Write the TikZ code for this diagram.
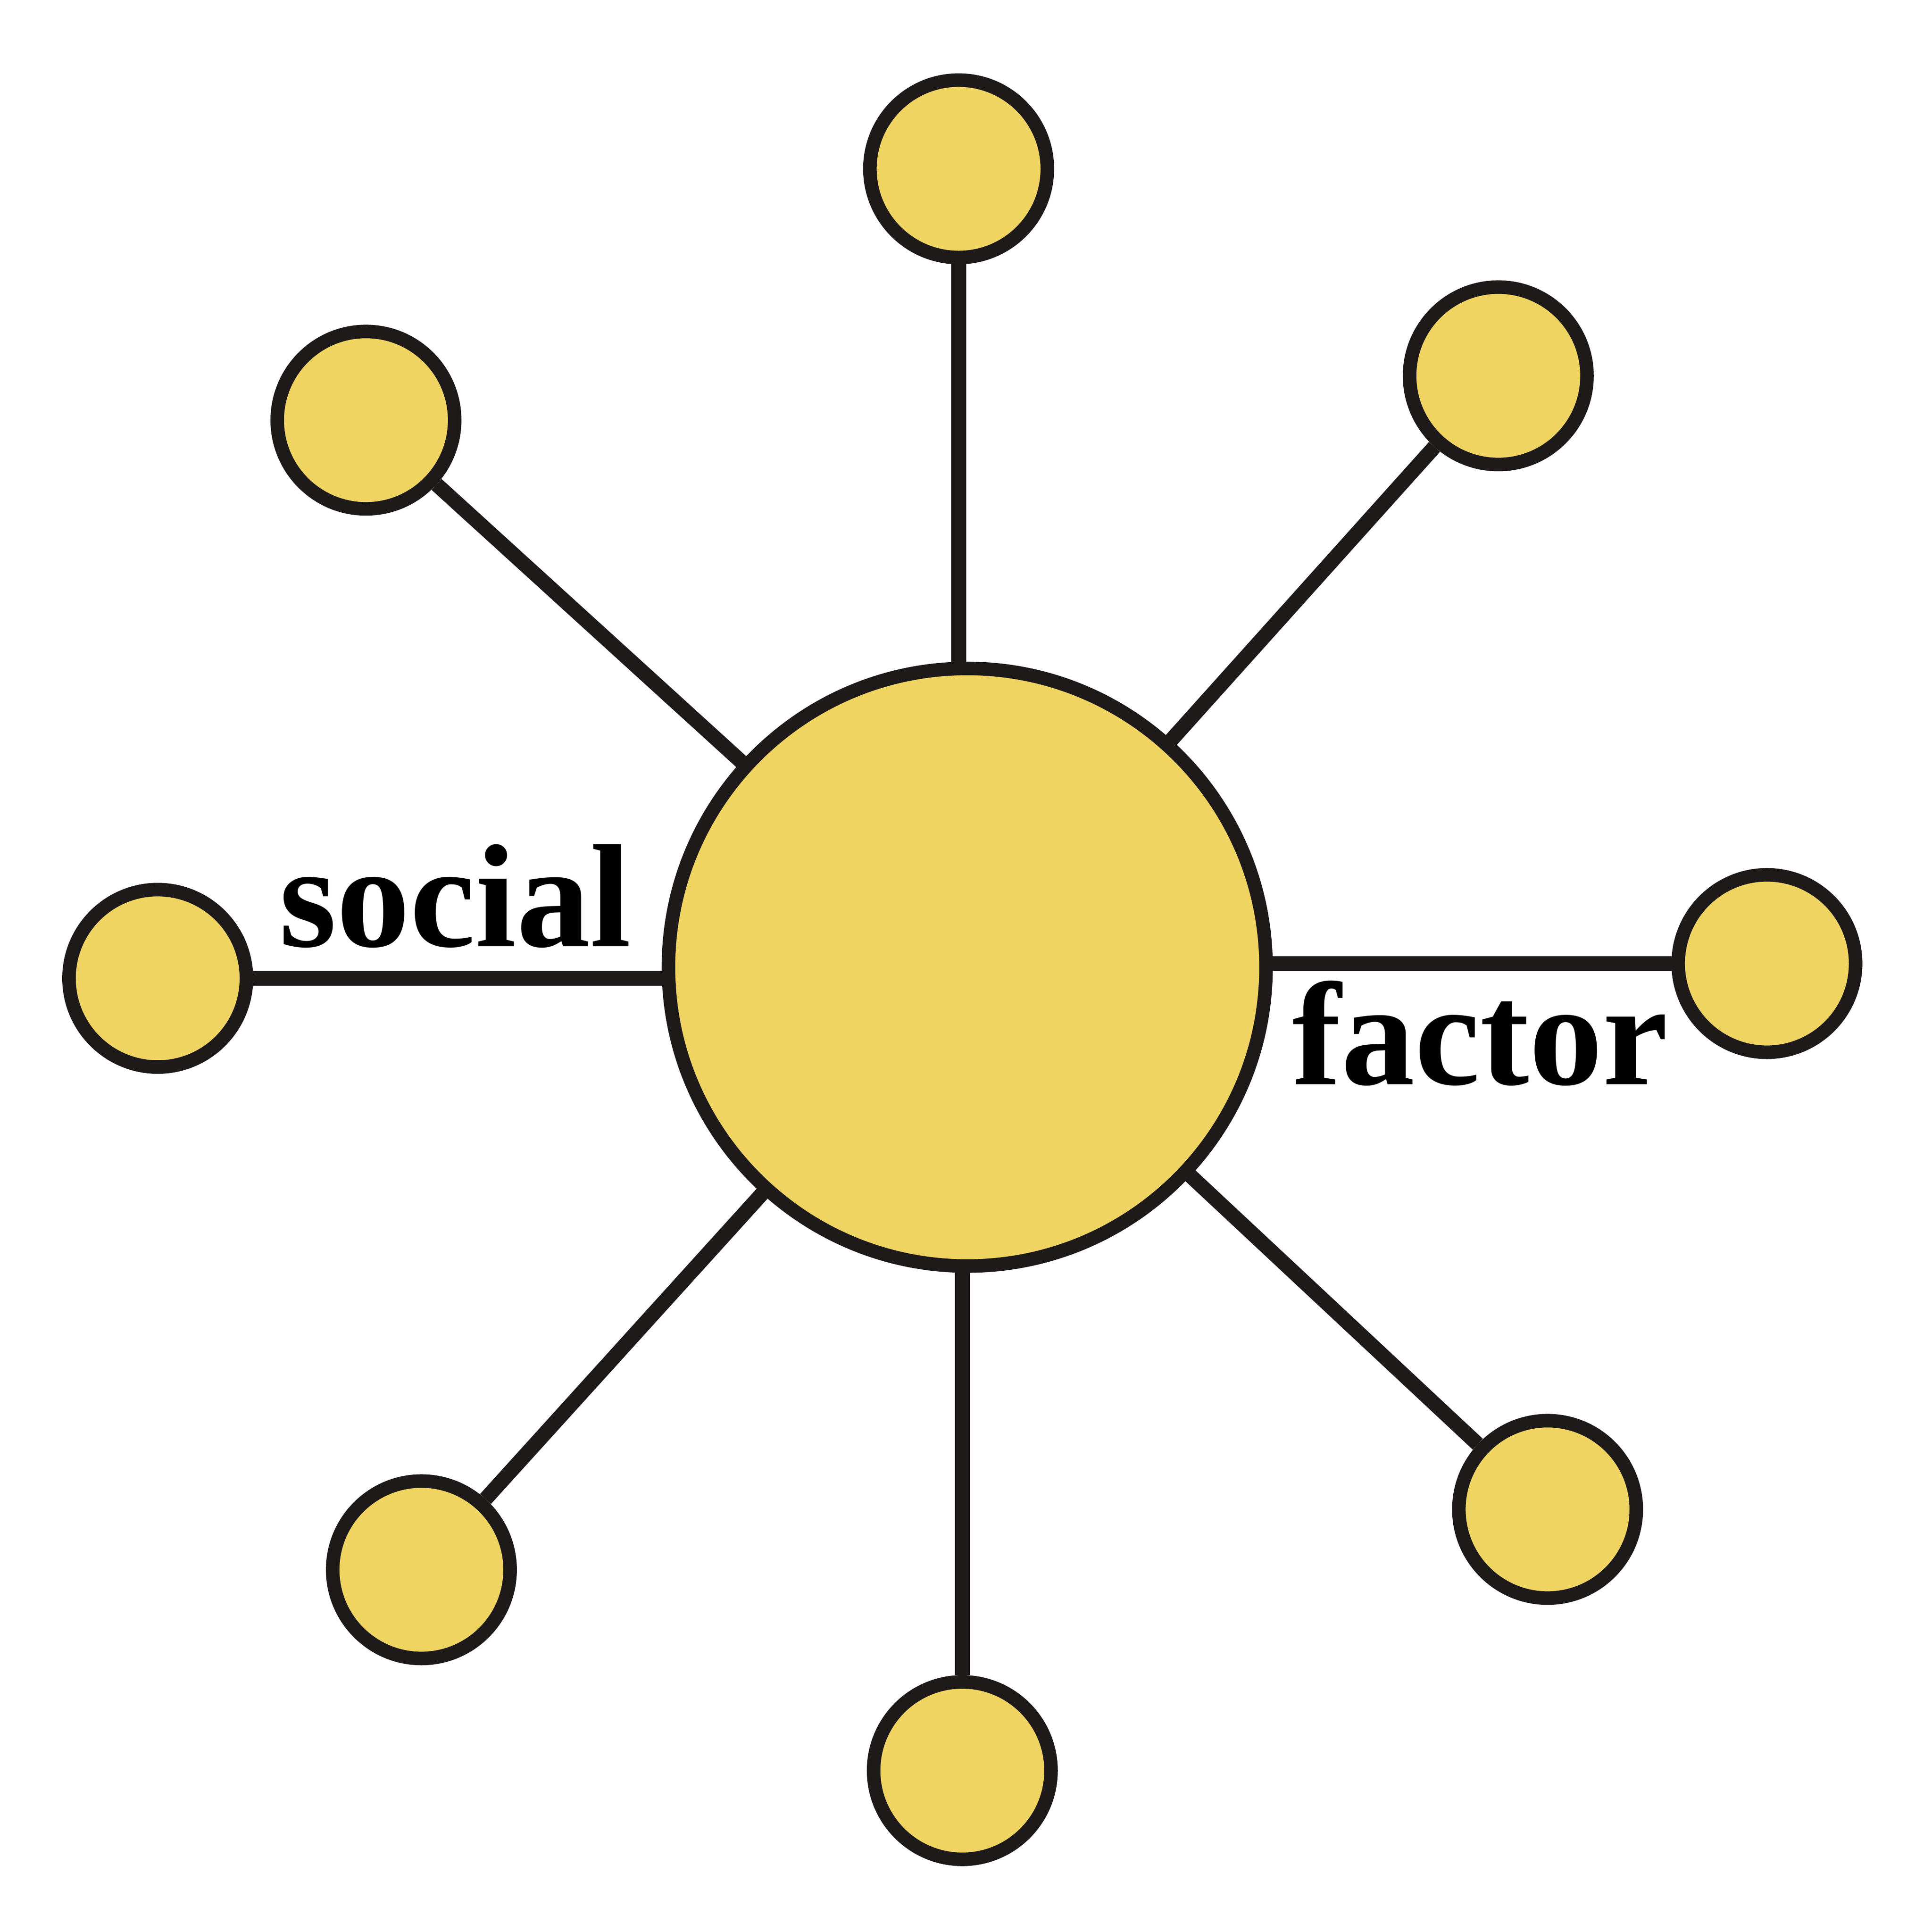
\documentclass[tikz,border=0pt]{standalone}
\usepackage{fontspec}
\setmainfont{Liberation Serif}
\definecolor{fillY}{HTML}{F0D462}
\definecolor{ink}{HTML}{1E1A1A}
\begin{document}
\begin{tikzpicture}[x=0.1mm,y=-0.1mm,
  bub/.style={circle,draw=ink,fill=fillY,line width=1.1mm,inner sep=0pt,minimum size=#1},
  link/.style={draw=ink,line width=1.2mm},
  word/.style={font=\bfseries\fontsize{34}{34}\selectfont,inner sep=0pt,anchor=base west,text=black}]
\useasboundingbox (0,0) rectangle (1568,1568);
\node[bub=14.4mm] (n1) at (778,137) {};
\node[bub=14.4mm] (n2) at (1216,305) {};
\node[bub=14.4mm] (n3) at (1434,782) {};
\node[bub=14.4mm] (n4) at (1256,1225) {};
\node[bub=14.4mm] (n5) at (781,1437) {};
\node[bub=14.4mm] (n6) at (342,1274) {};
\node[bub=14.4mm] (n7) at (128,794) {};
\node[bub=14.4mm] (n8) at (297,341) {};
\coordinate (c0) at (785,785);
\coordinate (t1) at (778,600);
\coordinate (t5) at (781,980);
\coordinate (t7) at (600,790);
\coordinate (t3) at (980,779);
\draw[link] (n1) -- (t1);
\draw[link] (n5) -- (t5);
\draw[link] (n7) -- (n7 -| t7);
\draw[link] (n3) -- (n3 -| t3);
\foreach \n in {n2,n4,n6,n8} \draw[link] (c0) -- (\n);
\node[bub=48.5mm] (c) at (c0) {};
\node[word] (s) at (226,768) {social};
\node[word] (f) at (1048,880) {factor};
\end{tikzpicture}
\end{document}
